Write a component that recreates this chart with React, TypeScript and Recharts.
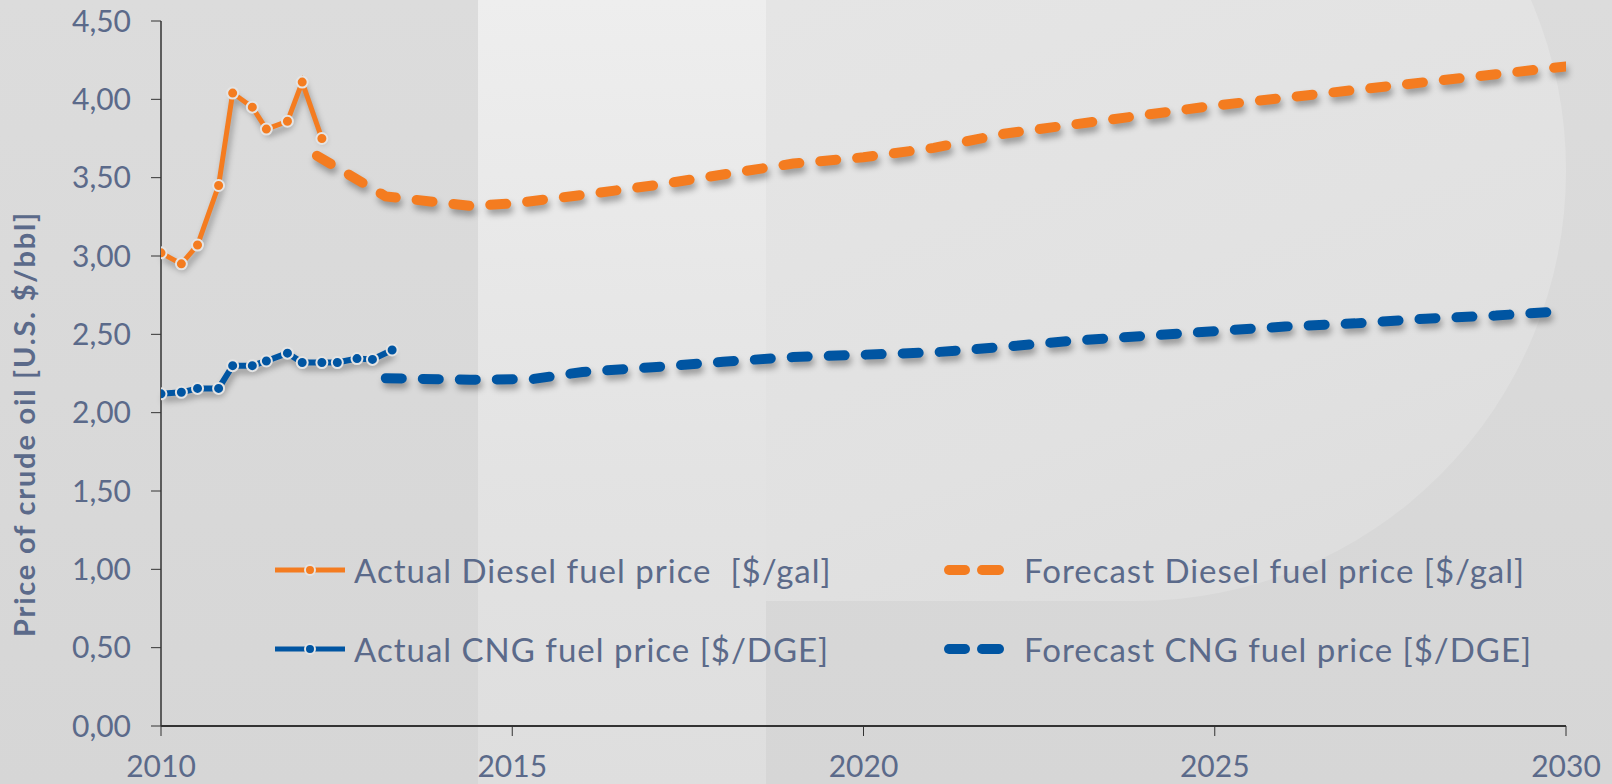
import { LineChart, Line, XAxis, YAxis, Legend, Label } from 'recharts'

const ORANGE = '#F47C20'
const BLUE = '#0055A2'
const INK = '#5B6A8A'
const FONT = 'Lato, "Open Sans", sans-serif'

// actual observations (quarterly-ish)
const actualYears = [2010.0, 2010.29, 2010.52, 2010.82, 2011.02, 2011.3, 2011.5, 2011.8, 2012.01, 2012.29, 2012.51, 2012.79, 2013.01, 2013.29]
const dieselActual = [3.02, 2.95, 3.07, 3.45, 4.04, 3.95, 3.81, 3.86, 4.11, 3.75]
const cngActual = [2.12, 2.13, 2.155, 2.155, 2.3, 2.3, 2.33, 2.38, 2.32, 2.32, 2.32, 2.345, 2.34, 2.4]

// forecasts
const dieselForecastYears = [2012.22, 2013.2, 2014.4, 2015, 2016, 2017, 2018, 2019, 2020, 2021, 2022, 2023, 2024, 2025, 2026, 2027, 2028, 2029, 2030]
const dieselForecast = [3.64, 3.38, 3.32, 3.335, 3.39, 3.45, 3.52, 3.59, 3.63, 3.69, 3.78, 3.84, 3.9, 3.96, 4.01, 4.06, 4.11, 4.16, 4.21]
const cngForecastYears = [2013.2, 2014.4, 2015.3, 2016, 2017, 2018, 2019, 2020, 2021, 2022, 2023, 2024, 2025, 2026, 2027, 2028, 2029, 2030]
const cngForecast = [2.22, 2.21, 2.215, 2.26, 2.29, 2.325, 2.355, 2.37, 2.385, 2.42, 2.46, 2.49, 2.52, 2.55, 2.57, 2.6, 2.62, 2.65]

const xTicks = [2010, 2015, 2020, 2025, 2030]
const yTicks = [0, 0.5, 1, 1.5, 2, 2.5, 3, 3.5, 4, 4.5]

const seriesNames = [
  'Actual Diesel fuel price  [$/gal]',
  'Forecast Diesel fuel price [$/gal]',
  'Actual CNG fuel price [$/DGE]',
  'Forecast CNG fuel price [$/DGE]',
]

const pairs = (xs: number[], ys: number[]) => ys.map((y, i) => ({ year: xs[i], value: y }))

const dieselActualData = pairs(actualYears, dieselActual)
const cngActualData = pairs(actualYears, cngActual)
const dieselForecastData = pairs(dieselForecastYears, dieselForecast)
const cngForecastData = pairs(cngForecastYears, cngForecast)

const fmt = (v: number) => v.toFixed(2).replace('.', ',')

function LegendIcon({ color, dashed }: { color: string; dashed: boolean }) {
  if (dashed) {
    return (
      <svg width={72} height={14} style={{ marginRight: 8 }}>
        <line x1={5} y1={7} x2={21} y2={7} stroke={color} strokeWidth={10} strokeLinecap="round" />
        <line x1={38} y1={7} x2={55} y2={7} stroke={color} strokeWidth={10} strokeLinecap="round" />
      </svg>
    )
  }
  return (
    <svg width={72} height={14} style={{ marginRight: 8 }}>
      <line x1={1} y1={7} x2={71} y2={7} stroke={color} strokeWidth={5} />
      <circle cx={36} cy={7} r={5} fill={color} stroke="#e4e4e4" strokeWidth={2} />
    </svg>
  )
}

function renderLegend(props: any) {
  const items = [...(props.payload || [])].sort(
    (a: any, b: any) => seriesNames.indexOf(a.value) - seriesNames.indexOf(b.value)
  )
  return (
    <div style={{ display: 'grid', gridTemplateColumns: '670px 620px', gridAutoRows: '79px', alignItems: 'center' }}>
      {items.map((e: any) => (
        <div key={e.value} style={{ display: 'flex', alignItems: 'center' }}>
          <LegendIcon color={e.color} dashed={String(e.value).startsWith('Forecast')} />
          <span style={{ fontFamily: FONT, fontSize: 33, letterSpacing: 1, color: INK, whiteSpace: 'pre' }}>{e.value}</span>
        </div>
      ))}
    </div>
  )
}

export default function App() {
  return (
    <div style={{ position: 'fixed', left: 0, top: 0, width: 1612, height: 784, overflow: 'hidden', background: 'linear-gradient(180deg, #dcdcdc 0%, #d6d6d6 100%)' }}>
      <style>{`.recharts-line { filter: drop-shadow(2px 5px 3px rgba(0,0,0,0.32)); }`}</style>
      <div style={{ position: 'absolute', left: 478, top: 0, width: 288, height: 784, background: 'linear-gradient(180deg, #eeeeee 0%, #e3e3e3 60%, #dedede 100%)' }} />
      <div style={{ position: 'absolute', left: 766, top: -260, width: 800, height: 861, borderRadius: '0 430px 430px 0 / 0 430px 430px 0', background: 'linear-gradient(160deg, #e7e7e7 0%, #e1e1e1 70%, #dcdcdc 100%)' }} />
      <div style={{ position: 'absolute', left: 0, top: 0 }}>
        <LineChart width={1612} height={784} margin={{ top: 21, right: 46, bottom: 8, left: 0 }}>
          <XAxis
            type="number"
            dataKey="year"
            domain={[2010, 2030]}
            ticks={xTicks}
            allowDataOverflow
            height={50}
            axisLine={{ stroke: '#333', strokeWidth: 2 }}
            tickLine={{ stroke: '#333' }}
            tickSize={10}
            tickMargin={20}
            tick={{ fill: INK, fontSize: 30, fontFamily: FONT }}
          />
          <YAxis
            type="number"
            domain={[0, 4.5]}
            ticks={yTicks}
            width={161}
            axisLine={{ stroke: '#333', strokeWidth: 1.5 }}
            tickLine={{ stroke: '#333' }}
            tickSize={10}
            tickMargin={20}
            tickFormatter={fmt}
            tick={{ fill: INK, fontSize: 30, fontFamily: FONT }}
          >
            <Label
              content={() => (
                <text x={23} y={424} transform="rotate(-90, 23, 424)" textAnchor="middle" dominantBaseline="central" fill={INK} fontSize={29} fontWeight={700} letterSpacing={1.8} fontFamily={FONT}>
                  Price of crude oil [U.S. $/bbl]
                </text>
              )}
            />
          </YAxis>
          <Legend
            layout="horizontal"
            verticalAlign="middle"
            align="center"
            content={renderLegend}
            wrapperStyle={{ left: 274, top: 530, width: 1330 }}
          />
          <Line
            data={dieselActualData}
            dataKey="value"
            name={seriesNames[0]}
            stroke={ORANGE}
            strokeWidth={5}
            dot={{ r: 5.5, fill: ORANGE, stroke: '#e4e4e4', strokeWidth: 2 }}
            activeDot={false}
            isAnimationActive={false}
          />
          <Line
            data={dieselForecastData}
            dataKey="value"
            name={seriesNames[1]}
            stroke={ORANGE}
            strokeWidth={10}
            strokeDasharray="16 21"
            strokeLinecap="round"
            dot={false}
            activeDot={false}
            isAnimationActive={false}
          />
          <Line
            data={cngActualData}
            dataKey="value"
            name={seriesNames[2]}
            stroke={BLUE}
            strokeWidth={6}
            dot={{ r: 5.5, fill: BLUE, stroke: '#e4e4e4', strokeWidth: 2 }}
            activeDot={false}
            isAnimationActive={false}
          />
          <Line
            data={cngForecastData}
            dataKey="value"
            name={seriesNames[3]}
            stroke={BLUE}
            strokeWidth={10}
            strokeDasharray="16 21"
            strokeLinecap="round"
            dot={false}
            activeDot={false}
            isAnimationActive={false}
          />
        </LineChart>
      </div>
    </div>
  )
}
